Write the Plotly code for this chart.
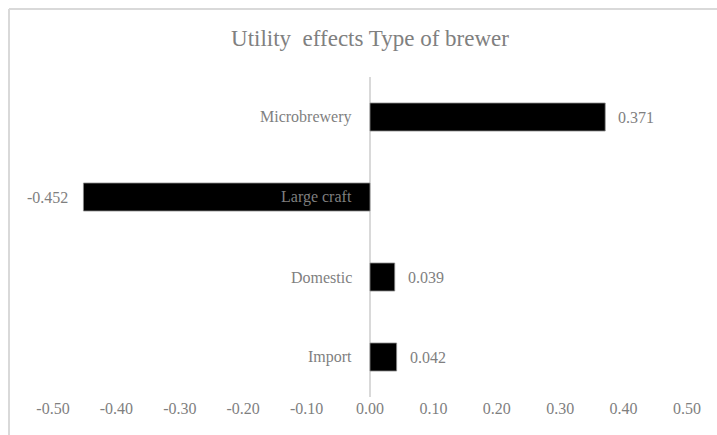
import plotly.graph_objects as go

# Utility effects by brewer type
categories = ["Microbrewery", "Large craft", "Domestic", "Import"]
utilities = [0.371, -0.452, 0.039, 0.042]
tick_values = [-0.5, -0.4, -0.3, -0.2, -0.1, 0.0, 0.1, 0.2, 0.3, 0.4, 0.5]
tick_labels = ["-0.50", "-0.40", "-0.30", "-0.20", "-0.10", "0.00",
               "0.10", "0.20", "0.30", "0.40", "0.50"]

FONT = "Liberation Serif"
TEXT = "#7f7f7f"
W, H = 717, 435
ML, MR, MT, MB = 53, 30, 77, 38

fig = go.Figure(
    go.Bar(
        x=utilities,
        y=categories,
        orientation="h",
        marker=dict(color="#000000", line=dict(color="#8c8c8c", width=0.8)),
        width=0.35,
        hoverinfo="skip",
    )
)

# category names sit next to the zero axis
for cat in categories:
    fig.add_annotation(
        x=0, y=cat, text=cat, showarrow=False,
        xanchor="right", yanchor="middle", xshift=-16,
        font=dict(family=FONT, size=16, color=TEXT),
    )

# value labels just beyond each bar end
for cat, v in zip(categories, utilities):
    fig.add_annotation(
        x=v, y=cat, text=f"{v:.3f}", showarrow=False,
        xanchor="left" if v >= 0 else "right", yanchor="middle",
        xshift=11 if v >= 0 else -13,
        font=dict(family=FONT, size=16, color=TEXT),
    )

# chart frame: top and left edges of the outer border
pw, ph = W - ML - MR, H - MT - MB
fx0 = (9 - ML) / pw
fy1 = (H - MB - 9) / ph
frame = dict(color="#d9d9d9", width=2)
fig.add_shape(type="line", xref="paper", yref="paper",
              x0=fx0, x1=(W - ML) / pw, y0=fy1, y1=fy1,
              line=frame, layer="below")
fig.add_shape(type="line", xref="paper", yref="paper",
              x0=fx0, x1=fx0, y0=-MB / ph, y1=fy1,
              line=frame, layer="below")

fig.update_layout(
    width=W, height=H,
    margin=dict(l=ML, r=MR, t=MT, b=MB),
    paper_bgcolor="white", plot_bgcolor="white",
    showlegend=False,
    title=dict(
        text="Utility  effects Type of brewer",
        x=0.5, xref="paper", xanchor="center",
        y=1 - 38 / H, yref="container", yanchor="middle",
        font=dict(family=FONT, size=23, color="#808080"),
    ),
    xaxis=dict(
        range=[-0.5, 0.5],
        tickmode="array", tickvals=tick_values, ticktext=tick_labels,
        showgrid=False, showline=False, ticks="",
        zeroline=True, zerolinecolor="#d9d9d9", zerolinewidth=2,
        tickfont=dict(family=FONT, size=16, color=TEXT),
        fixedrange=True,
    ),
    yaxis=dict(
        categoryorder="array", categoryarray=categories[::-1],
        showticklabels=False, showgrid=False, showline=False, ticks="",
        zeroline=False, fixedrange=True,
    ),
)

fig.write_html("out.html", config={"displayModeBar": False})
